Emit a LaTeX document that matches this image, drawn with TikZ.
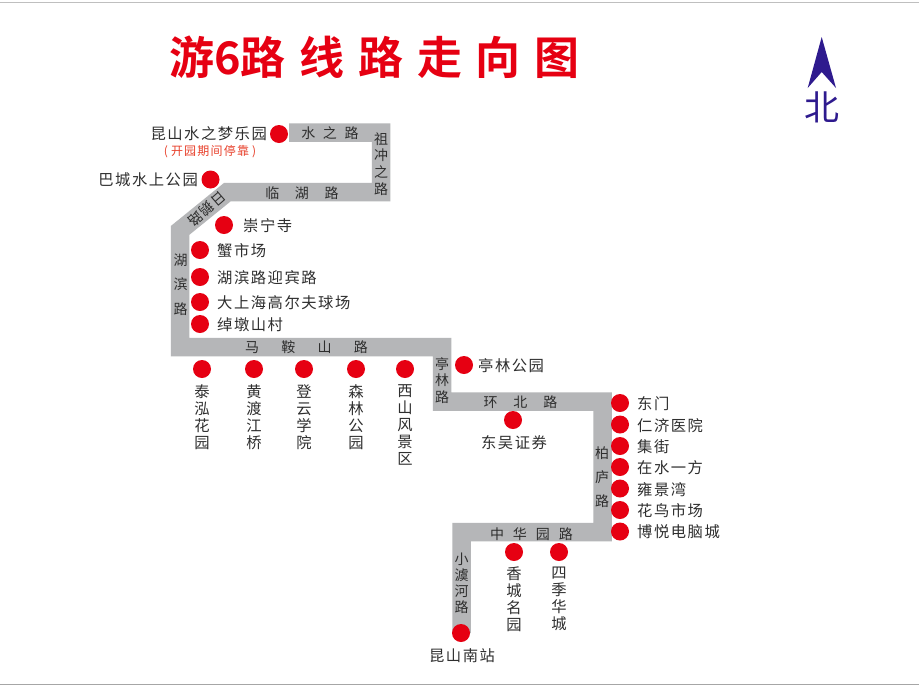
\documentclass[tikz,border=0pt]{standalone}
\usepackage{fontspec}
\setmainfont{Liberation Sans}
\newfontfamily\cjk[LetterSpace=10]{Noto Sans CJK SC}
\newfontfamily\cjktitle{Noto Sans CJK SC Bold}
\usetikzlibrary{arrows}
\definecolor{roadgray}{HTML}{B5B6B8}
\definecolor{stopred}{HTML}{E60012}
\definecolor{notered}{HTML}{E8402A}
\definecolor{inkgray}{HTML}{2E2E2E}
\definecolor{northblue}{HTML}{2E1A8E}
\tikzset{
	stopdot/.style={circle,fill=stopred,inner sep=0pt,minimum size=18pt},
	stoplabel/.style={inner sep=0pt,text=inkgray,font=\cjk\fontsize{15.3}{16.9}\selectfont,align=center},
	roadlabel/.style={inner sep=0pt,text=inkgray,font=\cjk\fontsize{14}{16.7}\selectfont},
	noteline/.style={inner sep=0pt,text=notered,font=\cjk\fontsize{12}{13}\selectfont}
}

\begin{document}
\begin{tikzpicture}[line cap=butt,line join=miter,x=1pt,y=-1pt]
	\useasboundingbox (0,0) rectangle (919,686);
	\fill [white] (0,0) rectangle (919,686);
	\draw [line width=1.5pt,color=black!25] (0,2.5)-- (919,2.5);
	\draw [line width=1.5pt,color=black!35] (0,684.5)-- (919,684.5);
	% route
	\draw [line width=18.5pt,color=roadgray] (289,132.5)-- (381,132.5)-- (381,192)-- (227.5,192)-- (180,230.5)-- (180,347)-- (442,347)-- (442,401.5)-- (602.5,401.5)-- (602.5,532)-- (461.5,532)-- (461.5,633);
	% title
	\node (title) [inner sep=0pt,anchor=west,text=stopred,font=\cjktitle\fontsize{45}{47}\selectfont] at (169,57) {游6路\hspace{13.8pt}线\hspace{13.8pt}路\hspace{13.8pt}走\hspace{13.8pt}向\hspace{13.8pt}图};
	% north
	\fill [color=northblue] (821.7,37)-- (836,88)-- (821.7,72)-- (807.7,88)-- cycle;
	\node (north) [inner sep=0pt,text=northblue,font=\cjk\fontsize{35}{36}\selectfont] at (822,107) {北};
	% upper stops
	\node (shui) [stopdot] at (279,134) {};
	\node (shuit) [stoplabel,anchor=east] at (267,133.5) {昆山水之梦乐园};
	\node (shuin) [noteline] at (210,152) {(\hspace{3pt}开园期间停靠\hspace{3pt})};
	\node (bacheng) [stopdot] at (210.5,179.5) {};
	\node (bachengt) [stoplabel,anchor=east] at (198,180) {巴城水上公园};
	\node (chongning) [stopdot] at (224,225) {};
	\node (chongningt) [stoplabel,anchor=west] at (243,225.5) {崇宁寺};
	\node (xie) [stopdot] at (200,250) {};
	\node (xiet) [stoplabel,anchor=west] at (217,250.5) {蟹市场};
	\node (hubin) [stopdot] at (200,277) {};
	\node (hubint) [stoplabel,anchor=west] at (217,277.5) {湖滨路迎宾路};
	\node (golf) [stopdot] at (200,302) {};
	\node (golft) [stoplabel,anchor=west] at (217,302.5) {大上海高尔夫球场};
	\node (chuodun) [stopdot] at (200,324) {};
	\node (chuodunt) [stoplabel,anchor=west] at (217,325) {绰墩山村};
	% ma'an shan road stops
	\node (taihong) [stopdot] at (202,369) {};
	\node (taihongt) [stoplabel,anchor=north] at (202,384.5) {泰\\泓\\花\\园};
	\node (huangdu) [stopdot] at (254,369) {};
	\node (huangdut) [stoplabel,anchor=north] at (254,384.5) {黄\\渡\\江\\桥};
	\node (dengyun) [stopdot] at (304,369) {};
	\node (dengyunt) [stoplabel,anchor=north] at (304,384.5) {登\\云\\学\\院};
	\node (senlin) [stopdot] at (356,369) {};
	\node (senlint) [stoplabel,anchor=north] at (356,384.5) {森\\林\\公\\园};
	\node (xishan) [stopdot] at (405,369) {};
	\node (xishant) [stoplabel,anchor=north] at (405,384.5) {西\\山\\风\\景\\区};
	\node (tinglin) [stopdot] at (464,365) {};
	\node (tinglint) [stoplabel,anchor=west] at (478,365.5) {亭林公园};
	\node (dongwu) [stopdot] at (513,420) {};
	\node (dongwut) [stoplabel] at (514,443) {东吴证券};
	% right column
	\node (dongmen) [stopdot] at (620,403) {};
	\node (dongment) [stoplabel,anchor=west] at (637,403.5) {东门};
	\node (renji) [stopdot] at (620,424.5) {};
	\node (renjit) [stoplabel,anchor=west] at (637,425.5) {仁济医院};
	\node (jijie) [stopdot] at (620,446) {};
	\node (jijiet) [stoplabel,anchor=west] at (637,446.5) {集街};
	\node (zaishui) [stopdot] at (620,467) {};
	\node (zaishuit) [stoplabel,anchor=west] at (637,468) {在水一方};
	\node (yongjing) [stopdot] at (620,488.5) {};
	\node (yongjingt) [stoplabel,anchor=west] at (637,489.5) {雍景湾};
	\node (huaniao) [stopdot] at (620,510) {};
	\node (huaniaot) [stoplabel,anchor=west] at (637,510.5) {花鸟市场};
	\node (boyue) [stopdot] at (620,531.5) {};
	\node (boyuet) [stoplabel,anchor=west] at (637,532) {博悦电脑城};
	% lower stops
	\node (xiangcheng) [stopdot] at (514,552) {};
	\node (xiangchengt) [stoplabel,anchor=north] at (514,567) {香\\城\\名\\园};
	\node (siji) [stopdot] at (559,552) {};
	\node (sijit) [stoplabel,anchor=north] at (559,567) {四\\季\\华\\城};
	\node (nanzhan) [stopdot] at (461,633) {};
	\node (nanzhant) [stoplabel] at (462,656) {昆山南站};
	% road names
	\node (rshui) [roadlabel] at (330,133) {水\hspace{7.6pt}之\hspace{7.6pt}路};
	\node (rzuchong) [roadlabel,align=center] at (381,164) {祖\\冲\\之\\路};
	\node (rlinhu) [roadlabel] at (302,193) {临\hspace{15.6pt}湖\hspace{15.6pt}路};
	\node (rhubin) [roadlabel,align=center,font=\cjk\fontsize{14}{24.5}\selectfont] at (180.5,284.5) {湖\\滨\\路};
	\node (rmaan) [roadlabel] at (306.5,347) {马\hspace{22.3pt}鞍\hspace{22.3pt}山\hspace{22.3pt}路};
	\node (rtinglin) [roadlabel,align=center] at (442,380.5) {亭\\林\\路};
	\node (rhuanbei) [roadlabel] at (520.5,402) {环\hspace{16pt}北\hspace{16pt}路};
	\node (rbailu) [roadlabel,align=center,font=\cjk\fontsize{14}{24}\selectfont] at (602,477) {柏\\庐\\路};
	\node (rzhonghua) [roadlabel] at (531.5,534) {中\hspace{9pt}华\hspace{9pt}园\hspace{9pt}路};
	\node (rxiaoyu) [roadlabel,align=center,font=\cjk\fontsize{14}{16}\selectfont] at (461.5,583) {小\\澞\\河\\路};
	\node (rdiag) [roadlabel,rotate=221] at (207,209) {日\hspace{1.5pt}鹅\hspace{1.5pt}路};
\end{tikzpicture}
\end{document}
